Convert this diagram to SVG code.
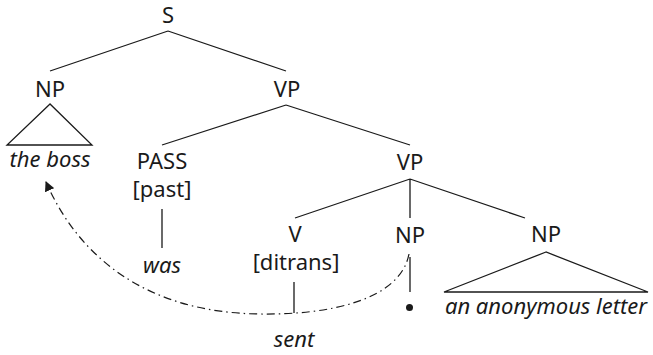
<svg xmlns="http://www.w3.org/2000/svg" width="653" height="355" viewBox="0 0 653 355">
<defs>
<style>
text{font-family:"Noto Sans","Open Sans",sans-serif;font-size:22px;fill:#1a1a1a;text-anchor:middle}
.it{font-style:italic}
.e{stroke:#1a1a1a;stroke-width:1.3;fill:none}
.mv{stroke:#1a1a1a;stroke-width:1.2;fill:none;stroke-dasharray:8 4 1.5 4}
</style>
<marker id="ah" viewBox="0 0 10 10" refX="9" refY="5" markerWidth="10" markerHeight="10" markerUnits="userSpaceOnUse" orient="auto">
<path d="M0,0 L10,5 L0,10 Z" fill="#1a1a1a"/>
</marker>
</defs>
<g id="connectors">
<path class="e" d="M168,31 L50,71 M168,31 L286,71"/>
<path class="e" d="M50,104 L7,145 L92,145 Z"/>
<path class="e" d="M286,105 L162,145 M286,105 L410,145"/>
<path class="e" d="M162,209 L162,248"/>
<path class="e" d="M410,179 L295,218 M410,179 L410,218 M410,179 L525,218"/>
<path class="e" d="M294,282 L294,313"/>
<path class="e" d="M410,257 L410,292"/>
<path class="e" d="M546,252 L444,292 L648,292 Z"/>
<path class="mv" marker-end="url(#ah)" d="M409,254 C400,300 330,315 260,314 C150,313 80,260 46,182"/>
</g>
<g id="S"><text x="168" y="23">S</text></g>
<g id="NP1"><text x="50" y="97">NP</text></g>
<g id="the-boss"><text class="it" x="50" y="167">the boss</text></g>
<g id="VP1"><text x="287" y="97">VP</text></g>
<g id="PASS"><text x="162" y="169">PASS</text><text x="162" y="197">[past]</text></g>
<g id="was"><text class="it" x="162" y="273">was</text></g>
<g id="VP2"><text x="410" y="170">VP</text></g>
<g id="V"><text x="295" y="242">V</text><text x="296" y="270">[ditrans]</text></g>
<g id="sent"><text class="it" x="294" y="347">sent</text></g>
<g id="NP2"><text x="410" y="243">NP</text></g>
<g id="trace"><circle cx="409.5" cy="307.5" r="3.5" fill="#1a1a1a"/></g>
<g id="NP3"><text x="546" y="242">NP</text></g>
<g id="letter"><text class="it" x="546" y="314">an anonymous letter</text></g>
</svg>
